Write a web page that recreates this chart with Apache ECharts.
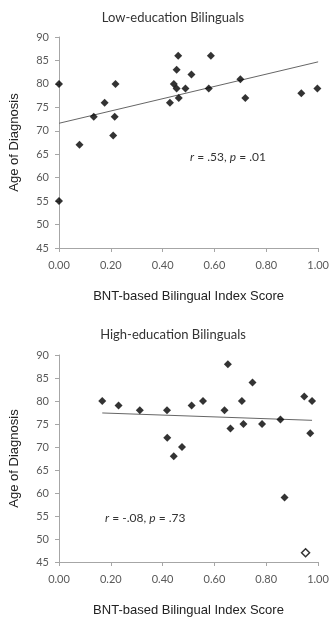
<!DOCTYPE html>
<html>
<head>
<meta charset="utf-8">
<script src="https://cdn.jsdelivr.net/npm/echarts@6/dist/echarts.min.js"></script>
<style>
html,body{margin:0;padding:0;background:#fff;}
#chart{width:332px;height:618px;}
</style>
</head>
<body>
<div id="chart"></div>
<script>
// ---- Data ----
var xTicks = [0, 0.2, 0.4, 0.6, 0.8, 1.0];
var yTicks = [45, 50, 55, 60, 65, 70, 75, 80, 85, 90];

var lowX = [0.00, 0.00, 0.079, 0.134, 0.176, 0.218, 0.215, 0.209, 0.428, 0.443, 0.454, 0.460, 0.454, 0.462, 0.488, 0.511, 0.578, 0.586, 0.700, 0.719, 0.935, 0.997];
var lowY = [80, 55, 67, 73, 76, 80, 73, 69, 76, 80, 83, 86, 79, 77, 79, 82, 79, 86, 81, 77, 78, 79];
var lowTrendX = [0, 1];
var lowTrendY = [71.6, 84.7];

var highX = [0.167, 0.230, 0.312, 0.417, 0.418, 0.443, 0.475, 0.512, 0.556, 0.639, 0.652, 0.662, 0.706, 0.712, 0.747, 0.784, 0.855, 0.871, 0.947, 0.977, 0.970];
var highY = [80, 79, 78, 78, 72, 68, 70, 79, 80, 78, 88, 74, 80, 75, 84, 75, 76, 59, 81, 80, 73];
var highOutlierX = [0.952];
var highOutlierY = [47];
var highTrendX = [0.167, 0.977];
var highTrendY = [77.4, 75.8];

function zip(a, b) { return a.map(function (v, i) { return [v, b[i]]; }); }

var chart = echarts.init(document.getElementById('chart'), null, {renderer: 'canvas'});

var axisColor = '#a6a6a6';
var labelColor = '#595959';
var tickFont = 'Lato, "Open Sans", sans-serif';

function xAxis(gi) {
  return {
    type: 'value', gridIndex: gi, min: 0, max: 1, interval: 0.2,
    name: 'BNT-based Bilingual Index Score', nameLocation: 'middle', nameGap: 42,
    nameTextStyle: {fontFamily: '"Liberation Sans", Arial, sans-serif', fontSize: 13, color: '#222'},
    axisLine: {show: true, lineStyle: {color: axisColor, width: 1}},
    axisTick: {show: true, length: 4, lineStyle: {color: axisColor}},
    axisLabel: {color: labelColor, fontFamily: tickFont, fontSize: 11, margin: 12,
      formatter: function (v) { return v.toFixed(2); }},
    splitLine: {show: false}
  };
}
function yAxis(gi) {
  return {
    type: 'value', gridIndex: gi, min: 45, max: 90, interval: 5,
    name: 'Age of Diagnosis', nameLocation: 'middle', nameGap: 38, nameRotate: 90,
    nameTextStyle: {fontFamily: '"Liberation Sans", Arial, sans-serif', fontSize: 13, color: '#222'},
    axisLine: {show: true, lineStyle: {color: axisColor, width: 1}},
    axisTick: {show: true, length: 4, lineStyle: {color: axisColor}},
    axisLabel: {color: labelColor, fontFamily: tickFont, fontSize: 11, margin: 10},
    splitLine: {show: false}
  };
}

var annStyle = {
  fontFamily: tickFont, fontSize: 12, color: '#333', fontWeight: 'normal',
  rich: {
    i: {fontFamily: tickFont, fontSize: 12, color: '#333', fontStyle: 'italic', fontWeight: 'normal'},
    n: {fontFamily: tickFont, fontSize: 12, color: '#333', fontWeight: 'normal'}
  }
};

var option = {
  animation: false,
  backgroundColor: '#fff',
  title: [
    {text: 'Low-education Bilinguals', left: 168, top: 6, textAlign: 'center',
      textStyle: {fontFamily: tickFont, fontSize: 13, fontWeight: 'normal', color: '#333'}},
    {text: 'High-education Bilinguals', left: 168, top: 323, textAlign: 'center',
      textStyle: {fontFamily: tickFont, fontSize: 13, fontWeight: 'normal', color: '#333'}},
    {text: '{i|r}{n| = .53, }{i|p}{n| = .01}', left: 185, top: 146, textStyle: annStyle},
    {text: '{i|r}{n| = -.08, }{i|p}{n| = .73}', left: 100, top: 507, textStyle: annStyle}
  ],
  grid: [
    {left: 58, top: 37, width: 263, height: 211},
    {left: 58, top: 355, width: 260, height: 209}
  ],
  xAxis: [xAxis(0), xAxis(1)],
  yAxis: [yAxis(0), yAxis(1)],
  series: [
    {type: 'line', xAxisIndex: 0, yAxisIndex: 0, data: zip(lowTrendX, lowTrendY),
      showSymbol: false, symbol: 'none', lineStyle: {color: '#666', width: 1}, z: 1},
    {type: 'scatter', xAxisIndex: 0, yAxisIndex: 0, data: zip(lowX, lowY),
      symbol: 'diamond', symbolSize: 8, itemStyle: {color: '#000'}, z: 3},
    {type: 'line', xAxisIndex: 1, yAxisIndex: 1, data: zip(highTrendX, highTrendY),
      showSymbol: false, symbol: 'none', lineStyle: {color: '#666', width: 1}, z: 1},
    {type: 'scatter', xAxisIndex: 1, yAxisIndex: 1, data: zip(highX, highY),
      symbol: 'diamond', symbolSize: 8, itemStyle: {color: '#000'}, z: 3},
    {type: 'scatter', xAxisIndex: 1, yAxisIndex: 1, data: zip(highOutlierX, highOutlierY),
      symbol: 'diamond', symbolSize: 8, itemStyle: {color: '#fff', borderColor: '#000', borderWidth: 1.5}, z: 3}
  ]
};
chart.setOption(option);
</script>
</body>
</html>
